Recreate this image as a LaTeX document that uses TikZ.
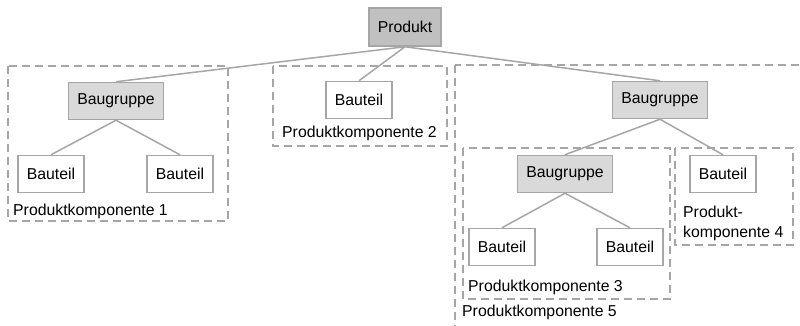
\documentclass[tikz,border=0pt]{standalone}
\usepackage{fontspec}
\setmainfont{Liberation Sans}
\usetikzlibrary{positioning}
\definecolor{boxline}{RGB}{166,166,166}
\definecolor{prodfill}{RGB}{192,192,192}
\definecolor{asmfill}{RGB}{217,217,217}
\tikzset{
    block/.style = {draw=boxline, line width=1.5pt, rectangle, minimum height=37pt, inner xsep=9pt, align=center},
    product/.style = {block, fill=prodfill, minimum height=38pt},
    assembly/.style = {block, fill=asmfill},
    part/.style = {block, fill=white},
    link/.style = {draw=boxline, line width=1.5pt},
    group/.style = {draw=boxline, line width=1.5pt, dash pattern=on 8pt off 5pt},
    grouplabel/.style = {anchor=base west, inner sep=0pt, align=left},
}

\begin{document}
\begin{tikzpicture}[x=1pt, y=-1pt, font=\fontsize{15.8}{20}\selectfont]
    \useasboundingbox (0,0) rectangle (800,326);
    \clip (0,0) rectangle (800,326);
    \fill[white] (0,0) rectangle (800,326);

    % product components
    \draw[group] (8,66) rectangle (228,221);
    \draw[group] (273,66) rectangle (447,146);
    \draw[group] (455,65) rectangle (815,345);
    \draw[group] (463,148) rectangle (670,299);
    \draw[group] (675,148) rectangle (793,245);

    \node[grouplabel] (pk1) at (13,215) {Produktkomponente 1};
    \node[grouplabel] (pk2) at (282,138) {Produktkomponente 2};
    \node[grouplabel] (pk3) at (468,291) {Produktkomponente 3};
    \node[grouplabel] (pk4) at (683,237) {Produkt-\\komponente 4};
    \node[grouplabel] (pk5) at (462,316) {Produktkomponente 5};

    % tree
    \node[product] (prod) at (405,27) {Produkt};
    \node[assembly] (bg1) at (116,101) {Baugruppe};
    \node[part] (bt1a) at (51,174) {Bauteil};
    \node[part] (bt1b) at (180,174) {Bauteil};
    \node[part] (bt2) at (359,100) {Bauteil};
    \node[assembly] (bg2) at (660,100) {Baugruppe};
    \node[assembly] (bg3) at (565,174) {Baugruppe};
    \node[part] (bt3a) at (502,247) {Bauteil};
    \node[part] (bt3b) at (630,247) {Bauteil};
    \node[part] (bt4) at (723,174) {Bauteil};

    \draw[link] (prod.south) -- (bg1.north);
    \draw[link] (prod.south) -- (bt2.north);
    \draw[link] (prod.south) -- (bg2.north);
    \draw[link] (bg1.south) -- (bt1a.north);
    \draw[link] (bg1.south) -- (bt1b.north);
    \draw[link] (bg2.south) -- (bg3.north);
    \draw[link] (bg2.south) -- (bt4.north);
    \draw[link] (bg3.south) -- (bt3a.north);
    \draw[link] (bg3.south) -- (bt3b.north);
\end{tikzpicture}
\end{document}
